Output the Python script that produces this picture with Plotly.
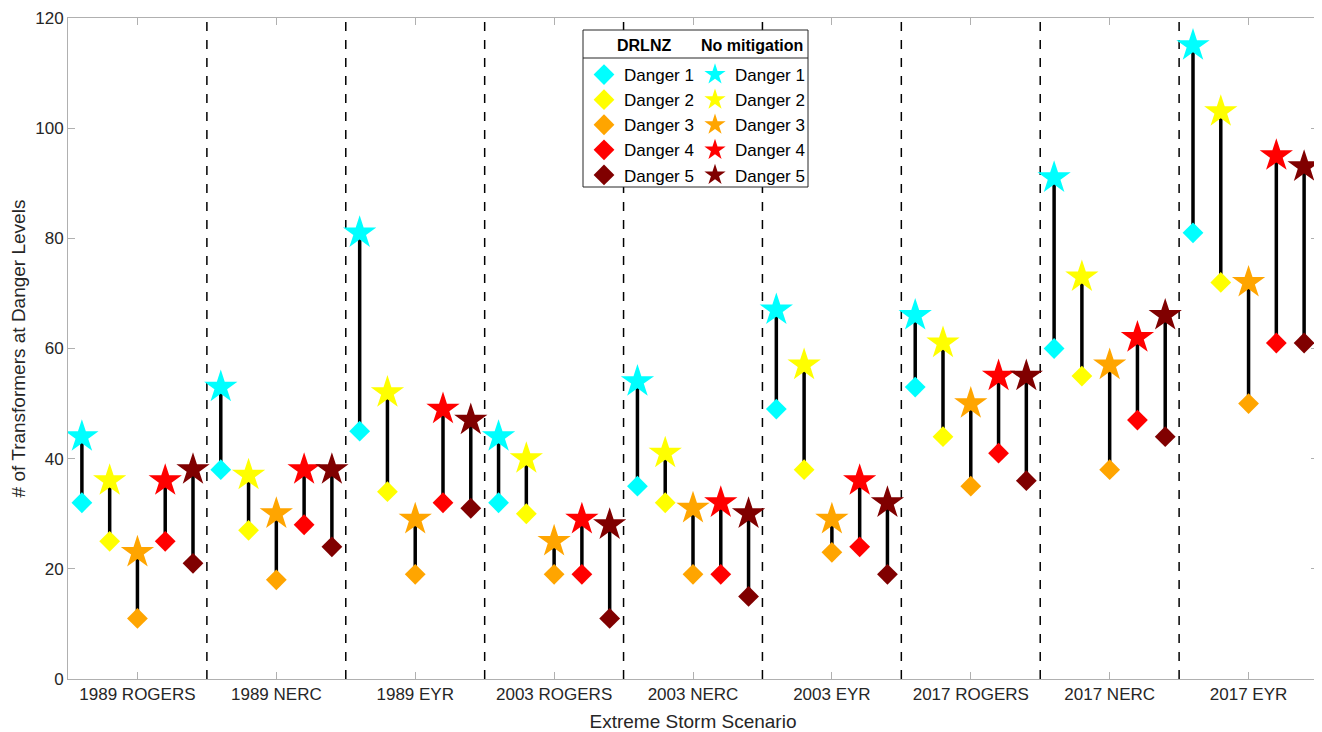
import plotly.graph_objects as go

scenarios = ["1989 ROGERS", "1989 NERC", "1989 EYR", "2003 ROGERS", "2003 NERC",
             "2003 EYR", "2017 ROGERS", "2017 NERC", "2017 EYR"]
levels = ["Danger 1", "Danger 2", "Danger 3", "Danger 4", "Danger 5"]
colors = ["#00FFFF", "#FFFF00", "#FFA500", "#FF0000", "#800000"]
group_titles = ["DRLNZ", "No mitigation"]

# rows: scenario, columns: danger level
drlnz = [
    [32, 25, 11, 25, 21],
    [38, 27, 18, 28, 24],
    [45, 34, 19, 32, 31],
    [32, 30, 19, 19, 11],
    [35, 32, 19, 19, 15],
    [49, 38, 23, 24, 19],
    [53, 44, 35, 41, 36],
    [60, 55, 38, 47, 44],
    [81, 72, 50, 61, 61],
]
no_mitigation = [
    [44, 36, 23, 36, 38],
    [53, 37, 30, 38, 38],
    [81, 52, 29, 49, 47],
    [44, 40, 25, 29, 28],
    [54, 41, 31, 32, 30],
    [67, 57, 29, 36, 32],
    [66, 61, 50, 55, 55],
    [91, 73, 57, 62, 66],
    [115, 103, 72, 95, 93],
]

nS = len(scenarios)
nL = len(levels)

def xpos(s, l):
    return s * nL + l + 1

fig = go.Figure()

# stems
sx, sy = [], []
for s in range(nS):
    for l in range(nL):
        x = xpos(s, l)
        sx += [x, x, None]
        sy += [drlnz[s][l], no_mitigation[s][l], None]
fig.add_trace(go.Scatter(x=sx, y=sy, mode="lines", line=dict(color="black", width=3.5),
                         showlegend=False, hoverinfo="skip"))

for l in range(nL):
    fig.add_trace(go.Scatter(
        x=[xpos(s, l) for s in range(nS)], y=[drlnz[s][l] for s in range(nS)],
        mode="markers", name=levels[l], legend="legend",
        marker=dict(symbol="diamond", size=16, color=colors[l], line=dict(width=0))))
for l in range(nL):
    fig.add_trace(go.Scatter(
        x=[xpos(s, l) for s in range(nS)], y=[no_mitigation[s][l] for s in range(nS)],
        mode="markers", name=levels[l], legend="legend2",
        marker=dict(symbol="star", size=25, color=colors[l], line=dict(width=0))))

# dashed separators
for s in range(1, nS):
    xb = s * nL + 0.5
    fig.add_shape(type="line", x0=xb, x1=xb, xref="x", y0=0, y1=1, yref="paper",
                  line=dict(color="black", width=1.5, dash="dash"), layer="below")

# page is offset by the body margin (8 px)
OFF = 8
W, H = 1322 - OFF, 732 - OFF
L, R, T, B = 68, 1318, 18, 679   # plot area in reference pixels
def px(xp): return (xp - L) / (R - L)
def py(yp): return (B - yp) / (B - T)

# legend box + header separator
fig.add_shape(type="rect", xref="paper", yref="paper", x0=px(583), x1=px(808),
              y0=py(187), y1=py(30), fillcolor="white", line=dict(color="#262626", width=1),
              layer="above")
fig.add_shape(type="line", xref="paper", yref="paper", x0=px(583), x1=px(808),
              y0=py(58), y1=py(58), line=dict(color="#262626", width=1), layer="above")
for txt, cx in zip(group_titles, [644, 752]):
    fig.add_annotation(text="<b>%s</b>" % txt, xref="paper", yref="paper",
                       x=px(cx), y=py(46), xanchor="center", yanchor="middle",
                       showarrow=False, font=dict(size=16, color="#000000"))

font_family = "Liberation Sans, Arial, sans-serif"
axis_common = dict(showline=True, linecolor="#b0b0b0", linewidth=1, mirror="ticks",
                   ticks="inside", ticklen=7, tickcolor="#b0b0b0", showgrid=False,
                   zeroline=False, automargin=False,
                   tickfont=dict(size=17, color="#262626", family=font_family))

fig.update_layout(
    width=W, height=H,
    margin=dict(l=L - OFF, r=1322 - R, t=T - OFF, b=732 - B),
    paper_bgcolor="white", plot_bgcolor="white",
    font=dict(family=font_family, color="#262626"),
    xaxis=dict(range=[0.5, nS * nL + 0.5],
               tickvals=[s * nL + 3 for s in range(nS)], ticktext=scenarios,
               title=dict(text="Extreme Storm Scenario", font=dict(size=19)),
               **axis_common),
    yaxis=dict(range=[0, 120], dtick=20,
               title=dict(text="# of Transformers at Danger Levels", font=dict(size=19)),
               **axis_common),
    legend=dict(x=px(584), y=py(57), xanchor="left", yanchor="top",
                bgcolor="rgba(0,0,0,0)", borderwidth=0, font=dict(size=17, color="#000000")),
    legend2=dict(x=px(695), y=py(57), xanchor="left", yanchor="top",
                 bgcolor="rgba(0,0,0,0)", borderwidth=0, font=dict(size=17, color="#000000")),
)

fig.write_html("out.html")
